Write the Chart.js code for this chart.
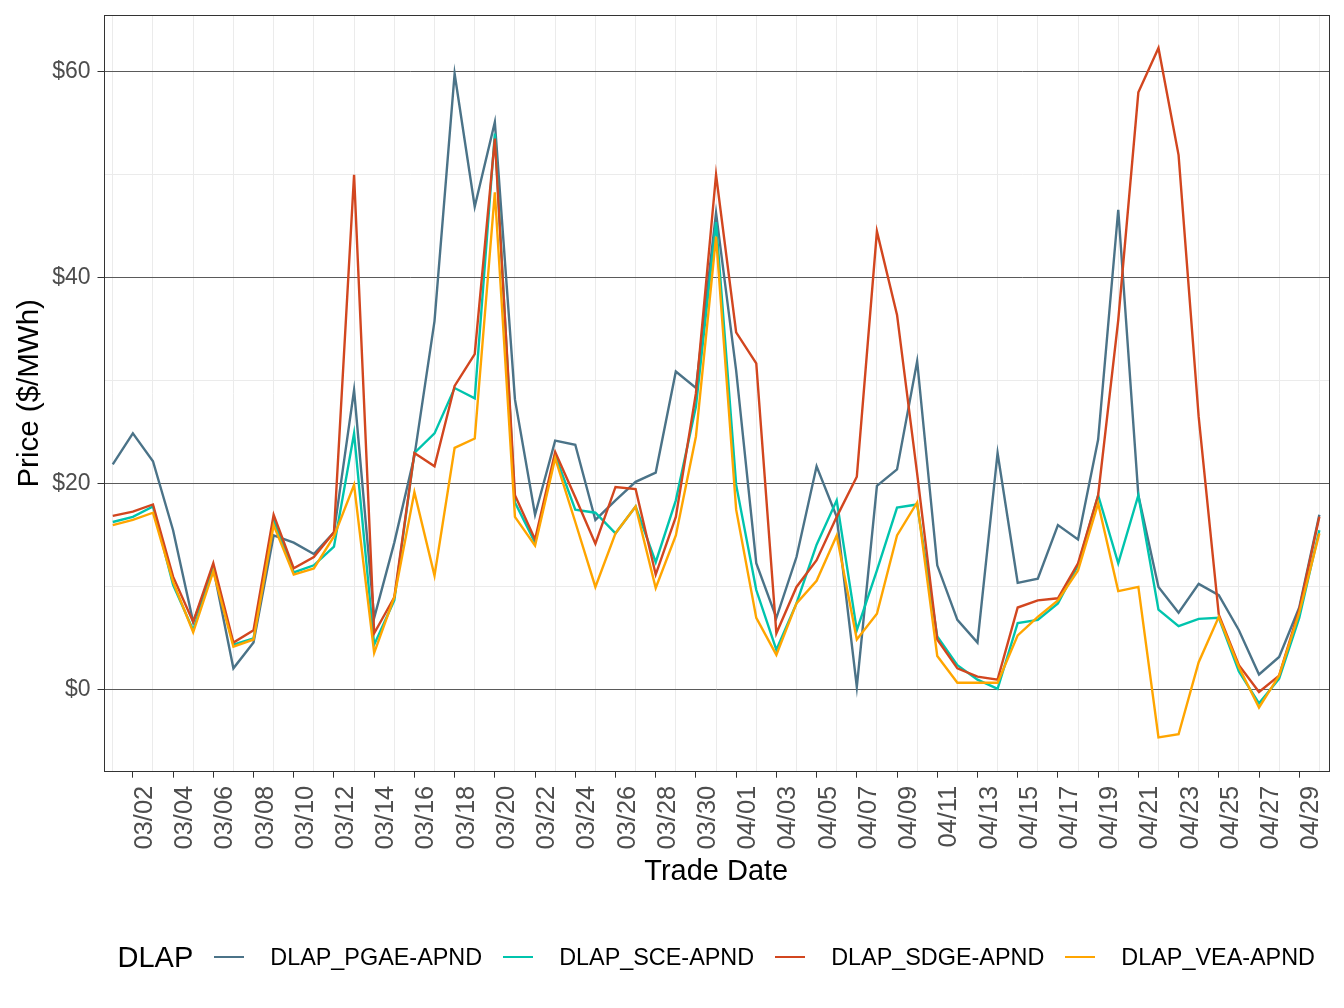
<!DOCTYPE html>
<html>
<head>
<meta charset="utf-8">
<script src="https://cdn.jsdelivr.net/npm/chart.js@4.4.1/dist/chart.umd.min.js"></script>
<style>
  html, body { margin: 0; padding: 0; background: #fff; }
  #wrap { position: relative; width: 1344px; height: 1008px; }
  #legend {
    position: absolute; left: 103.5px; width: 1225.5px; top: 936px; height: 42px;
    display: flex; justify-content: center; align-items: center;
    font-family: "Liberation Sans", Arial, sans-serif; color: #000;
  }
  #legend .title { font-size: 29px; flex-shrink: 0; }
  #legend .key { display: block; flex-shrink: 0; width: 30px; height: 2.5px; margin-left: 21px; }
  #legend .lab { font-size: 23.4px; margin-left: 26px; flex-shrink: 0; white-space: nowrap; }
</style>
</head>
<body>
<div id="wrap">
  <canvas id="chart" width="1344" height="1008"></canvas>
  <div id="legend"></div>
</div>
<script>
// trade dates 03/01 .. 04/30
const dates = [
  '03/01','03/02','03/03','03/04','03/05','03/06','03/07','03/08','03/09','03/10',
  '03/11','03/12','03/13','03/14','03/15','03/16','03/17','03/18','03/19','03/20',
  '03/21','03/22','03/23','03/24','03/25','03/26','03/27','03/28','03/29','03/30',
  '03/31','04/01','04/02','04/03','04/04','04/05','04/06','04/07','04/08','04/09',
  '04/10','04/11','04/12','04/13','04/14','04/15','04/16','04/17','04/18','04/19',
  '04/20','04/21','04/22','04/23','04/24','04/25','04/26','04/27','04/28','04/29',
  '04/30'
];

const pgae = [
  21.9, 24.9, 22.2, 15.5, 6.6, 11.8, 2.1, 4.6, 15.0, 14.3,
  13.2, 15.3, 29.1, 7.0, 14.3, 22.7, 35.8, 59.8, 46.9, 55.1,
  28.2, 17.0, 24.2, 23.8, 16.5, 18.4, 20.2, 21.1, 30.9, 29.3,
  46.3, 31.0, 12.3, 7.0, 12.9, 21.7, 16.8, 0.3, 19.8, 21.4,
  31.9, 12.1, 6.8, 4.6, 23.0, 10.4, 10.8, 16.0, 14.6, 24.3,
  46.6, 18.9, 10.0, 7.5, 10.3, 9.2, 5.8, 1.5, 3.2, 8.0,
  17.0
];
const sce = [
  16.3, 16.8, 17.8, 10.2, 5.8, 11.8, 4.4, 5.0, 16.5, 11.4,
  12.1, 13.9, 24.9, 4.4, 8.7, 23.0, 24.9, 29.3, 28.3, 54.0,
  18.2, 14.3, 22.8, 17.5, 17.2, 15.2, 17.8, 12.4, 18.4, 27.5,
  45.4, 19.9, 9.7, 3.9, 8.4, 14.1, 18.4, 5.8, 11.6, 17.7,
  18.0, 5.2, 2.4, 1.0, 0.1, 6.5, 6.8, 8.4, 12.1, 18.9,
  12.3, 18.9, 7.8, 6.2, 6.9, 7.0, 1.8, -1.3, 1.1, 7.0,
  15.5
];
const sdge = [
  16.9, 17.3, 18.0, 11.0, 6.6, 12.3, 4.6, 5.8, 17.0, 11.8,
  12.9, 15.3, 50.0, 5.5, 9.0, 23.0, 21.7, 29.5, 32.6, 53.5,
  18.9, 14.6, 23.1, 18.7, 14.2, 19.7, 19.5, 11.2, 16.8, 28.8,
  50.0, 34.7, 31.7, 5.5, 10.0, 12.6, 16.8, 20.7, 44.5, 36.4,
  21.0, 4.9, 2.1, 1.3, 1.0, 8.0, 8.7, 8.9, 12.3, 18.9,
  35.9, 58.0, 62.3, 51.9, 26.5, 7.3, 2.4, -0.2, 1.4, 7.8,
  16.8
];
const vea = [
  16.0, 16.5, 17.2, 10.5, 5.6, 11.5, 4.2, 4.9, 16.0, 11.2,
  11.8, 14.9, 19.9, 3.6, 9.0, 19.2, 11.1, 23.5, 24.4, 48.3,
  16.8, 14.0, 22.5, 16.3, 10.0, 15.2, 17.8, 9.9, 15.0, 24.6,
  44.0, 17.5, 7.0, 3.4, 8.4, 10.6, 15.0, 4.9, 7.4, 15.0,
  18.2, 3.3, 0.7, 0.7, 0.7, 5.3, 7.1, 8.7, 11.6, 18.1,
  9.6, 10.0, -4.6, -4.3, 2.7, 7.1, 2.2, -1.7, 1.4, 7.5,
  15.2
];

const seriesNames = ['DLAP_PGAE-APND', 'DLAP_SCE-APND', 'DLAP_SDGE-APND', 'DLAP_VEA-APND'];
const seriesColors = ['#4b7388', '#00c4ad', '#d2461f', '#ffa500'];
const seriesValues = [pgae, sce, sdge, vea];
const yTicks = [0, 10, 20, 30, 40, 50, 60];

const FONT = '"Liberation Sans", Arial, sans-serif';

// full panel border drawn above the lines, like ggplot
const panelBorder = {
    id: 'panelBorder',
    afterDatasetsDraw(chart) {
        const a = chart.chartArea;
        const ctx = chart.ctx;
        ctx.save();
        ctx.strokeStyle = '#333333';
        ctx.lineWidth = 1;
        ctx.strokeRect(Math.round(a.left) + 0.5, Math.round(a.top) + 0.5,
            Math.round(a.right - a.left) - 1, Math.round(a.bottom - a.top) - 1);
        ctx.restore();
    }
};

// no label overhang padding, so the panel sits where the layout says
function noPad(s) {
    s.paddingLeft = 0; s.paddingRight = 0; s.paddingTop = 0; s.paddingBottom = 0;
}

const datasets = seriesValues.map((vals, k) => ({
    label: seriesNames[k],
    data: vals.map((v, i) => ({ x: i, y: v })),
    borderColor: seriesColors[k],
    backgroundColor: seriesColors[k],
    borderWidth: 2.4,
    pointRadius: 0,
    tension: 0,
    order: seriesValues.length - k
}));

new Chart(document.getElementById('chart'), {
    type: 'line',
    data: { datasets: datasets },
    plugins: [panelBorder],
    options: {
        responsive: false,
        animation: false,
        layout: { padding: { top: 15, right: 15, left: 0, bottom: 117.6 } },
        plugins: { legend: { display: false }, tooltip: { enabled: false } },
        scales: {
            x: {
                type: 'linear',
                min: -0.46,
                max: 60.48,
                afterBuildTicks: s => { s.ticks = dates.map((_, i) => ({ value: i })); },
                afterFit: s => { s.height = 118.7; noPad(s); },
                border: { display: false },
                grid: {
                    color: c => (c.tick && c.tick.value % 2 === 0) ? '#ebebeb' : 'rgba(0,0,0,0)',
                    lineWidth: 1,
                    tickColor: c => (c.tick && c.tick.value % 2 === 1) ? '#333333' : 'rgba(0,0,0,0)',
                    tickLength: 6,
                    drawTicks: true
                },
                ticks: {
                    autoSkip: false,
                    maxRotation: 90,
                    minRotation: 90,
                    labelOffset: 12,
                    padding: 8,
                    color: '#4d4d4d',
                    font: { family: FONT, size: 25.5 },
                    callback: v => (v % 2 === 1 ? dates[v] : '')
                },
                title: {
                    display: true,
                    text: 'Trade Date',
                    color: '#000',
                    font: { family: FONT, size: 29 },
                    padding: { top: 4, bottom: 1 }
                }
            },
            y: {
                min: -7.93,
                max: 65.5,
                afterBuildTicks: s => { s.ticks = yTicks.map(v => ({ value: v })); },
                afterFit: s => { s.width = 103.5; noPad(s); },
                border: { display: false },
                grid: {
                    color: c => (c.tick && c.tick.value % 20 === 0) ? '#5a5a5a' : '#ebebeb',
                    lineWidth: 1,
                    tickColor: c => (c.tick && c.tick.value % 20 === 0) ? '#333333' : 'rgba(0,0,0,0)',
                    tickLength: 6
                },
                ticks: {
                    padding: 7,
                    color: '#4d4d4d',
                    font: { family: FONT, size: 23 },
                    callback: v => (v % 20 === 0 ? '$' + v : '')
                },
                title: {
                    display: true,
                    text: 'Price ($/MWh)',
                    color: '#000',
                    font: { family: FONT, size: 29.5 },
                    padding: { top: 12, bottom: 0 }
                }
            }
        }
    }
});

// legend as html, centred under the panel
const legend = document.getElementById('legend');
legend.innerHTML = '<span class="title">DLAP</span>' + seriesNames.map((n, k) =>
    `<span class="key" style="background:${seriesColors[k]}"></span><span class="lab">${n}</span>`
).join('');
</script>
</body>
</html>
